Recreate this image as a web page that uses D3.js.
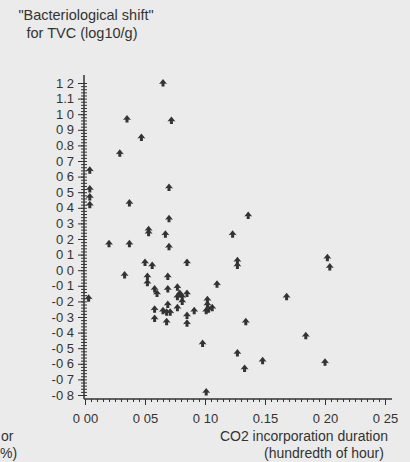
<!DOCTYPE html>
<html>
<head>
<meta charset="utf-8">
<script src="https://cdn.jsdelivr.net/npm/d3@7"></script>
<style>
  html, body { margin: 0; padding: 0; background: #ebebeb; }
  svg { display: block; }
  text { font-family: "Liberation Sans", Arial, sans-serif; fill: #333; }
</style>
</head>
<body>
<svg id="chart"></svg>
<script>
// Размеры
const width = 410;
const height = 462;

// Данные: длительность включения CO2 и бактериологический сдвиг
const xValues = [0.065, 0.035, 0.072, 0.047, 0.029, 0.004, 0.004, 0.004, 0.004, 0.070,
                 0.037, 0.070, 0.136, 0.053, 0.053, 0.067, 0.123, 0.020, 0.037, 0.070,
                 0.050, 0.056, 0.085, 0.127, 0.127, 0.033, 0.052, 0.052, 0.069, 0.110,
                 0.003, 0.058, 0.060, 0.069, 0.077, 0.079, 0.085, 0.081, 0.077, 0.081,
                 0.058, 0.069, 0.065, 0.068, 0.071, 0.077, 0.102, 0.102, 0.103, 0.106,
                 0.101, 0.091, 0.085, 0.058, 0.068, 0.085, 0.134, 0.098, 0.127, 0.133,
                 0.101, 0.202, 0.204, 0.168, 0.184, 0.148, 0.200];
const yValues = [1.20, 0.97, 0.96, 0.85, 0.75, 0.64, 0.52, 0.47, 0.42, 0.53,
                 0.43, 0.33, 0.35, 0.26, 0.24, 0.23, 0.23, 0.17, 0.17, 0.15,
                 0.05, 0.03, 0.05, 0.06, 0.03, -0.03, -0.04, -0.08, -0.04, -0.09,
                 -0.18, -0.12, -0.15, -0.12, -0.11, -0.15, -0.15, -0.17, -0.17, -0.20,
                 -0.25, -0.22, -0.26, -0.27, -0.27, -0.24, -0.19, -0.22, -0.25, -0.24,
                 -0.26, -0.26, -0.29, -0.31, -0.33, -0.34, -0.33, -0.47, -0.53, -0.63,
                 -0.78, 0.08, 0.02, -0.17, -0.42, -0.58, -0.59];

// Подписи делений (как напечатано)
const xTicks = [0, 0.05, 0.10, 0.15, 0.20, 0.25];
const xTickLabels = ['0 00', '0 05', '0 10', '0.15', '0 20', '0 25'];
const yTicks = d3.range(12, -9, -1).map(d => d / 10);
const yTickLabels = ['1 2', '1.1', '1 0', '0 9', '0.8', '0 7', '0 6', '0 5', '0 4', '0 3', '0 2',
                     '0 1', '0 0', '-0 1', '-0 2', '-0 3', '-0 4', '-0 5', '-0 6', '-0 7', '-0 8'];

const svg = d3.select('#chart').attr('width', width).attr('height', height);

// Шкалы
const x = d3.scaleLinear().domain([0, 0.25]).range([85, 385]);
const y = d3.scaleLinear().domain([-0.8, 1.2]).range([395, 83]);
const axisX = 84;
const axisY = 399;

// Ось X: мелкие и крупные деления вниз
const xMinor = d3.range(0, 51).map(i => i * 0.005);
svg.append('g').attr('transform', `translate(0, ${axisY})`)
    .call(d3.axisBottom(x).tickValues(xMinor).tickSize(3).tickFormat(''))
    .call(g => g.select('.domain').remove());
svg.append('g').attr('class', 'x-major').attr('transform', `translate(0, ${axisY})`)
    .call(d3.axisBottom(x).tickValues(xTicks).tickSize(6).tickPadding(9)
        .tickFormat((d, i) => xTickLabels[i]))
    .call(g => g.select('.domain').remove());
svg.append('line')
    .attr('x1', axisX).attr('x2', 392)
    .attr('y1', axisY).attr('y2', axisY)
    .attr('stroke', '#333').attr('stroke-width', 1.5);

// Ось Y: деления с обеих сторон
const yMinor = d3.range(0, 101).map(i => -0.8 + i * 0.02);
svg.append('g').attr('transform', `translate(${axisX}, 0)`)
    .call(d3.axisLeft(y).tickValues(yMinor).tickSize(3).tickFormat(''))
    .call(g => g.select('.domain').remove());
svg.append('g').attr('transform', `translate(${axisX}, 0)`)
    .call(d3.axisRight(y).tickValues(yMinor).tickSize(3).tickFormat(''))
    .call(g => g.select('.domain').remove());
svg.append('g').attr('class', 'y-major').attr('transform', `translate(${axisX}, 0)`)
    .call(d3.axisLeft(y).tickValues(yTicks).tickSize(6).tickPadding(4)
        .tickFormat((d, i) => yTickLabels[i]))
    .call(g => g.select('.domain').remove());
svg.append('line')
    .attr('x1', axisX).attr('x2', axisX)
    .attr('y1', 75).attr('y2', axisY)
    .attr('stroke', '#333').attr('stroke-width', 1.5);

svg.selectAll('.tick line').attr('stroke', '#333').attr('stroke-width', 1);
svg.selectAll('.tick text')
    .style('font-family', '"Liberation Sans", Arial, sans-serif')
    .style('font-size', '13px')
    .attr('fill', '#333');

// Точки-маркеры (стрелки)
const marker = 'M0,-4 L4,1 L1.5,0.5 L1.5,3.5 L-1.5,3.5 L-1.5,0.5 L-4,1 Z';
svg.append('g').selectAll('path').data(xValues).enter().append('path')
    .attr('d', marker)
    .attr('transform', (d, i) => `translate(${x(d)}, ${y(yValues[i])})`)
    .attr('fill', '#333');

// Подписи осей
const title = svg.append('text').attr('font-size', 14.5);
title.append('tspan').attr('x', 86).attr('y', 20).attr('text-anchor', 'middle')
    .text('"Bacteriological shift"');
title.append('tspan').attr('x', 82).attr('y', 38).attr('text-anchor', 'middle')
    .text('for TVC (log10/g)');

const xTitle = svg.append('text').attr('font-size', 14).attr('text-anchor', 'middle');
xTitle.append('tspan').attr('x', 304).attr('y', 441).text('CO2 incorporation duration');
xTitle.append('tspan').attr('x', 324).attr('y', 458).text('(hundredth of hour)');

// Обрезанный фрагмент соседней подписи слева
svg.append('text').attr('font-size', 14).attr('x', 1).attr('y', 441).text('or');
svg.append('text').attr('font-size', 14).attr('x', 0).attr('y', 458).text('%)');
</script>
</body>
</html>
